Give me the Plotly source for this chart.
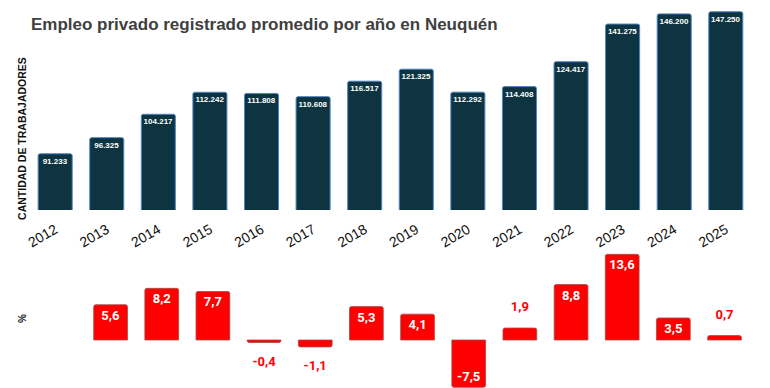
import plotly.graph_objects as go

years = ["2012", "2013", "2014", "2015", "2016", "2017", "2018", "2019",
         "2020", "2021", "2022", "2023", "2024", "2025"]
empleo = [91233, 96325, 104217, 112242, 111808, 110608, 116517, 121325,
          112292, 114408, 124417, 141275, 146200, 147250]
variacion = [None, 5.6, 8.2, 7.7, -0.4, -1.1, 5.3, 4.1, -7.5, 1.9, 8.8, 13.6, 3.5, 0.7]

W, H = 770, 388


def fmt_miles(v):
    return f"{v:,}".replace(",", ".")


def fmt_pct(v):
    return "" if v is None else f"{v:.1f}".replace(".", ",")


emp_text = [fmt_miles(v) for v in empleo]
small = [v is not None and abs(v) < 2.5 for v in variacion]
in_text = ["" if s else fmt_pct(v) for v, s in zip(variacion, small)]

out_x = [y for y, s in zip(years, small) if s]
out_y = [v for v, s in zip(variacion, small) if s]
out_text = [fmt_pct(v) for v in out_y]
out_pos = ["top center" if v >= 0 else "bottom center" for v in out_y]

fig = go.Figure()

fig.add_trace(go.Bar(
    x=years, y=empleo, text=emp_text,
    textposition="inside", insidetextanchor="end", textangle=0,
    constraintext="none",
    textfont=dict(family="Liberation Sans, Arial", size=8, color="white", weight="bold"),
    marker=dict(color="#0d3440", line=dict(color="#4f86c6", width=1), cornerradius=2),
    xaxis="x", yaxis="y", cliponaxis=False, showlegend=False, hoverinfo="skip",
))

fig.add_trace(go.Bar(
    x=years, y=variacion, text=in_text,
    textposition="inside", insidetextanchor="end", textangle=0,
    constraintext="none",
    insidetextfont=dict(family="Roboto", size=13, color="white", weight="bold"),
    marker=dict(color="#ff0000", line=dict(color="#a84a4a", width=0.8), cornerradius=2),
    xaxis="x2", yaxis="y2", cliponaxis=False, showlegend=False, hoverinfo="skip",
))

fig.add_trace(go.Scatter(
    x=out_x, y=out_y, text=out_text, mode="markers+text", textposition=out_pos,
    marker=dict(size=20, opacity=0, color="#ff0000"),
    textfont=dict(family="Roboto", size=13, color="#ff0000", weight="bold"),
    xaxis="x2", yaxis="y2", cliponaxis=False, showlegend=False, hoverinfo="skip",
))

top_px, base_px = 8, 210
log_base = 4.8778
log_top = log_base + (base_px - top_px) / 683.0

b_top_px, b_bot_px = 250, 388
zero_px = 340
ppu = 6.3

fig.update_layout(
    width=W, height=H,
    margin=dict(l=0, r=0, t=0, b=0),
    paper_bgcolor="white", plot_bgcolor="white",
    bargap=0.34,
    font=dict(family="Liberation Sans, Arial", color="#111"),
    xaxis=dict(domain=[25.5 / W, 751.5 / W], type="category", tickangle=-30,
               tickfont=dict(size=14, color="#111"), showgrid=False, showline=False,
               ticks="", anchor="y", ticklabelstandoff=8),
    yaxis=dict(domain=[1 - base_px / H, 1 - top_px / H], type="log",
               range=[log_base, log_top], showticklabels=False, showgrid=False,
               zeroline=False, showline=False, anchor="x"),
    xaxis2=dict(domain=[30 / W, 750 / W], type="category", showticklabels=False,
                showgrid=False, showline=False, ticks="", anchor="y2",
                categoryorder="array", categoryarray=years,
                range=[-0.5, len(years) - 0.5]),
    yaxis2=dict(domain=[0, 1 - b_top_px / H],
                range=[-(b_bot_px - zero_px) / ppu, (zero_px - b_top_px) / ppu],
                showticklabels=False, showgrid=False, zeroline=False, showline=False,
                anchor="x2"),
    annotations=[
        dict(text="Empleo privado registrado promedio por año en Neuquén",
             x=25 / W, y=1 - 24 / H, xref="paper", yref="paper",
             xanchor="left", yanchor="middle", showarrow=False,
             font=dict(size=17, color="#404040", weight="bold")),
        dict(text="CANTIDAD DE TRABAJADORES", x=18 / W, y=1 - 138 / H,
             xref="paper", yref="paper", textangle=-90, showarrow=False,
             xanchor="center", yanchor="middle",
             font=dict(size=10.5, color="#111", weight="bold")),
        dict(text="%", x=18 / W, y=1 - 318 / H, xref="paper", yref="paper",
             textangle=-90, showarrow=False, xanchor="center", yanchor="middle",
             font=dict(size=10, color="#111", weight="bold")),
    ],
)

fig.write_html("out.html", config={"displayModeBar": False},
               post_script="document.body.style.margin='0';document.body.style.padding='0';")
